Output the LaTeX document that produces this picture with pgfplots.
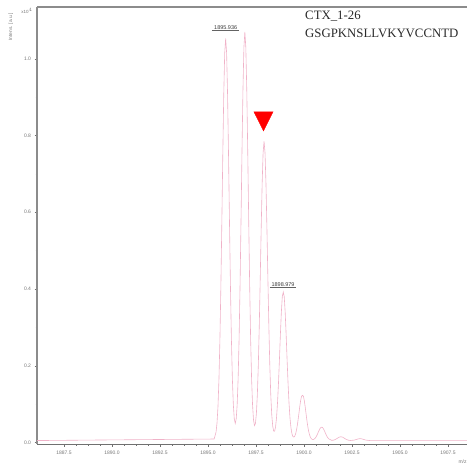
\documentclass[border=0pt]{standalone}
\usepackage{fontspec}
\setmainfont{Liberation Serif}
\newfontfamily\tickfont{Liberation Sans}
\usepackage{pgfplots}
\pgfplotsset{compat=1.18}
\usetikzlibrary{calc}
\definecolor{peak}{RGB}{240,178,200}
\definecolor{axgray}{RGB}{140,140,140}
\definecolor{txtgray}{RGB}{60,60,60}
\begin{document}
\begin{tikzpicture}
\begin{axis}[
  scale only axis, width=430pt, height=437pt,
  xmin=1886.094, xmax=1908.49, ymin=-0.004, ymax=1.135,
  clip=false,
  axis x line*=bottom, axis y line*=left,
  x axis line style={draw=axgray!80!black, line width=0.6pt},
  y axis line style={draw=axgray, line width=1.2pt},
  tick align=outside,
  major tick length=2.5pt, minor tick length=1.5pt,
  every tick/.style={axgray!80!black, line width=0.4pt},
  xtick={1887.5,1890,1892.5,1895,1897.5,1900,1902.5,1905,1907.5},
  ytick={0,0.2,0.4,0.6,0.8,1.0},
  minor x tick num=3, minor y tick num=1,
  tick label style={font=\tickfont\fontsize{5}{6}\selectfont, text=txtgray!70},
  xticklabel style={yshift=-1pt},
  /pgf/number format/.cd, fixed, fixed zerofill, precision=1, 1000 sep={}, assume math mode=true,
]
\addplot[peak, line width=0.6pt] coordinates {
(1886.094,0.005) (1895.32,0.009)
(1895.42,0.0272) (1895.47,0.0511) (1895.52,0.0939) (1895.57,0.1636) (1895.62,0.2665)
(1895.67,0.4051) (1895.72,0.571) (1895.77,0.7474) (1895.82,0.905) (1895.87,1.015)
(1895.92,1.053) (1895.97,1.015) (1896.02,0.905) (1896.07,0.7474) (1896.12,0.571)
(1896.17,0.4051) (1896.22,0.267) (1896.27,0.165) (1896.32,0.098) (1896.37,0.061)
(1896.42,0.0497)
(1896.47,0.0617) (1896.52,0.0993) (1896.57,0.1674) (1896.62,0.2707) (1896.67,0.4108)
(1896.72,0.579) (1896.77,0.758) (1896.82,0.9177) (1896.87,1.0295) (1896.92,1.07)
(1896.97,1.0295) (1897.02,0.9177) (1897.07,0.758) (1897.12,0.579) (1897.17,0.411)
(1897.22,0.2706) (1897.27,0.167) (1897.32,0.0982) (1897.37,0.0591) (1897.42,0.044)
(1897.47,0.0492) (1897.52,0.0753) (1897.57,0.1244) (1897.62,0.1997) (1897.67,0.3022)
(1897.72,0.4254) (1897.77,0.5565) (1897.82,0.6735) (1897.87,0.7554) (1897.92,0.785)
(1897.97,0.7554) (1898.02,0.6735) (1898.07,0.5565) (1898.12,0.4254) (1898.17,0.3022)
(1898.22,0.1994) (1898.27,0.1234) (1898.32,0.0726) (1898.37,0.0429) (1898.42,0.0297)
(1898.47,0.0294) (1898.52,0.041) (1898.57,0.0651) (1898.62,0.1025) (1898.67,0.1536)
(1898.72,0.2152) (1898.77,0.2807) (1898.82,0.3392) (1898.87,0.3802) (1898.92,0.392)
(1898.97,0.3802) (1899.02,0.3392) (1899.07,0.2807) (1899.12,0.2152) (1899.17,0.1536)
(1899.22,0.1022) (1899.27,0.0641) (1899.32,0.0385) (1899.37,0.0232) (1899.42,0.0157)
(1899.47,0.014) (1899.52,0.0167) (1899.57,0.0237) (1899.62,0.0351) (1899.67,0.0507)
(1899.72,0.0697) (1899.77,0.0898) (1899.82,0.1078) (1899.87,0.1204) (1899.92,0.123)
(1899.97,0.1204) (1900.02,0.1078) (1900.07,0.0898) (1900.12,0.0697) (1900.17,0.0507)
(1900.22,0.0349) (1900.27,0.0232) (1900.32,0.0153) (1900.37,0.0106) (1900.42,0.0082)
(1900.47,0.0076) (1900.52,0.0085) (1900.57,0.0105) (1900.62,0.0137) (1900.67,0.0183)
(1900.72,0.0239) (1900.77,0.0297) (1900.82,0.035) (1900.87,0.0387) (1900.92,0.040)
(1900.97,0.0387) (1901.02,0.035) (1901.07,0.0297) (1901.12,0.0239) (1901.17,0.0183)
(1901.22,0.0137) (1901.27,0.0105) (1901.32,0.0085) (1901.37,0.0075) (1901.42,0.0059)
(1901.52,0.0058) (1901.62,0.0075) (1901.72,0.0104) (1901.82,0.0136) (1901.92,0.015)
(1902.02,0.0136) (1902.12,0.0104) (1902.22,0.0075) (1902.32,0.0058) (1902.42,0.0052)
(1902.62,0.0062) (1902.72,0.0077) (1902.82,0.0093) (1902.92,0.010) (1903.02,0.0093)
(1903.12,0.0077) (1903.22,0.0062) (1903.42,0.005) (1908.49,0.005)
};
% red marker
\addplot[only marks, mark=triangle*, mark size=11pt, color=red,
  mark options={rotate=180, yscale=1.15, fill=red, draw=red}] coordinates {(1897.89,0.845)};
% top frame line
\draw[axgray, line width=1.2pt] (rel axis cs:0,1) -- (rel axis cs:1,1);
% peak labels
\node[font=\tickfont\fontsize{5.5}{6}\selectfont, text=txtgray, inner sep=0.6pt] (la) at (axis cs:1895.92,1.081) {1895.936};
\draw[txtgray!80, line width=0.4pt] ([xshift=-1.5pt]la.south west) -- ([xshift=1.5pt]la.south east);
\node[font=\tickfont\fontsize{5.5}{6}\selectfont, text=txtgray, inner sep=0.6pt] (lb) at (axis cs:1898.91,0.412) {1898.979};
\draw[txtgray!80, line width=0.4pt] ([xshift=-1pt]lb.south west) -- ([xshift=1pt]lb.south east);
% top-right text
\node[anchor=base west, inner sep=0pt, font=\fontsize{12.8}{14}\selectfont, text=txtgray!70!black] at (rel axis cs:0.6233,0.9718) {CTX\_1-26};
\node[anchor=base west, inner sep=0pt, font=\fontsize{12.8}{14}\selectfont, text=txtgray!70!black] at (rel axis cs:0.6233,0.9297) {GSGPKNSLLVKYVCCNTD};
\end{axis}
\node[rotate=90, font=\tickfont\fontsize{4.8}{5}\selectfont, text=txtgray!70] at ($(current axis.north west)+(-26pt,-20pt)$) {Intens. [a.u.]};
\node[font=\tickfont\fontsize{4.5}{5}\selectfont, text=txtgray!70] at ($(current axis.north west)+(-10pt,-3.5pt)$) {x10$^4$};
\node[anchor=west, font=\tickfont\fontsize{5}{6}\selectfont, text=txtgray!70] at ($(current axis.south east)+(-12pt,-18pt)$) {m/z};
\pgfresetboundingbox
\path ($(current axis.south west)+(-37pt,-22pt)$) rectangle ($(current axis.north east)+(0pt,7pt)$);
\end{tikzpicture}
\end{document}
